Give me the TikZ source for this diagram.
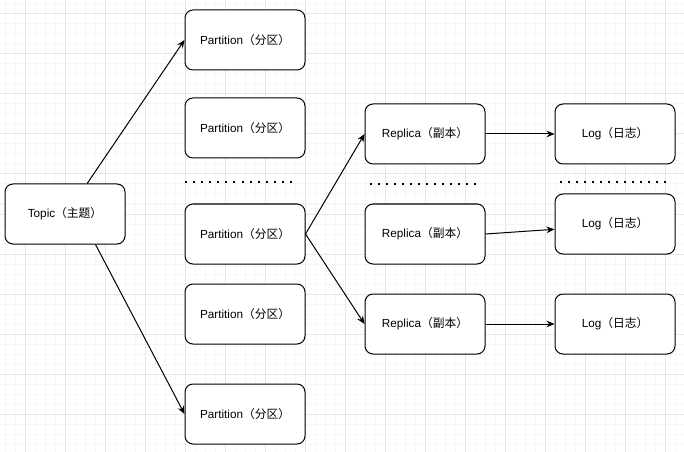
\documentclass[tikz,border=0pt]{standalone}
\usepackage{fontspec}
\setmainfont{Liberation Sans}
\newfontfamily\cjk{Noto Sans CJK SC}
\usetikzlibrary{arrows.meta}
\definecolor{gridmajor}{HTML}{E6E6E6}
\definecolor{gridminor}{HTML}{F6F6F6}
\tikzset{
    box/.style={draw, rounded corners=6pt, line width=0.75pt, fill=white,
        minimum width=90pt, minimum height=45pt, inner sep=0pt,
        font=\fontsize{8.8}{10}\selectfont},
    link/.style={-{Stealth[length=6pt,width=5pt]}, line width=0.75pt},
}
\newcommand{\dotrow}[3]{% x start, x end, y
    \foreach \k in {0,...,13}
        \fill ({#1+(#2-#1)*\k/13-1},#3-1) rectangle ++(2,2);
}
\begin{document}
\begin{tikzpicture}[x=0.75pt,y=-0.75pt]
\useasboundingbox (0,0) rectangle (684,452);
% grid
\foreach \x in {5,15,...,684} \draw[gridminor, line width=0.75pt] (\x,0) -- (\x,452);
\foreach \y in {4,14,...,452} \draw[gridminor, line width=0.75pt] (0,\y) -- (684,\y);
\foreach \x in {25,65,...,684} \draw[gridmajor, line width=0.75pt] (\x,0) -- (\x,452);
\foreach \y in {14,54,...,452} \draw[gridmajor, line width=0.75pt] (0,\y) -- (684,\y);
% nodes
\draw
    (65,214)   node[box] (topic) {Topic{\cjk （主题）}}
    (245,40)   node[box] (p1) {Partition{\cjk （分区）}}
    (245,128)  node[box] (p2) {Partition{\cjk （分区）}}
    (245,234)  node[box] (p3) {Partition{\cjk （分区）}}
    (245,314)  node[box] (p4) {Partition{\cjk （分区）}}
    (245,414)  node[box] (p5) {Partition{\cjk （分区）}}
    (425,134)  node[box] (r1) {Replica{\cjk （副本）}}
    (425,234)  node[box] (r2) {Replica{\cjk （副本）}}
    (425,324)  node[box] (r3) {Replica{\cjk （副本）}}
    (615,134)  node[box] (l1) {Log{\cjk （日志）}}
    (615,224)  node[box] (l2) {Log{\cjk （日志）}}
    (615,324)  node[box] (l3) {Log{\cjk （日志）}};
% dots
\dotrow{186}{291}{182}
\dotrow{371}{475}{184}
\dotrow{561}{665}{182}
% links
\draw[link] (topic.54) -- (p1.west);
\draw[link] (topic.-45) -- (p5.west);
\draw[link] (p3.east) -- (r1.west);
\draw[link] (p3.east) -- (r3.west);
\draw[link] (r1.east) -- (l1.west);
\draw[link] (r2.east) -- (l2.185);
\draw[link] (r3.east) -- (l3.west);
\end{tikzpicture}
\end{document}
